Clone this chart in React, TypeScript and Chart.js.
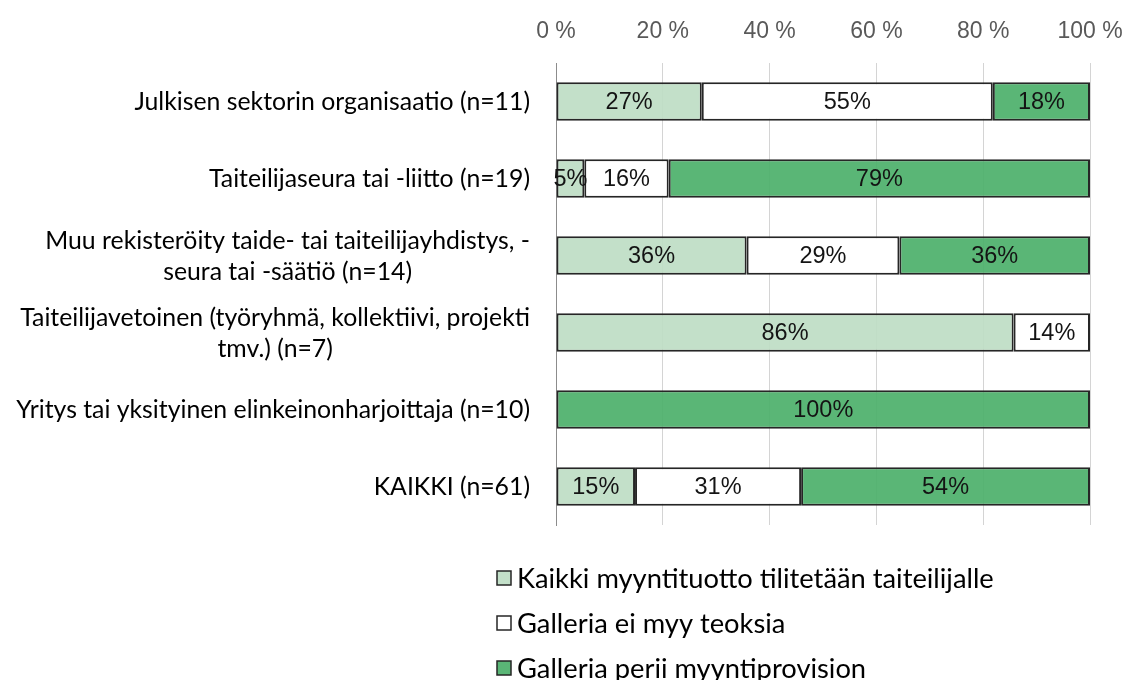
import React, { useEffect, useRef } from "react";
import { Chart, registerables } from "chart.js";

Chart.register(...registerables);

const categories: string[][] = [
  ["Julkisen sektorin organisaatio (n=11)"],
  ["Taiteilijaseura tai -liitto (n=19)"],
  ["Muu rekisteröity taide- tai taiteilijayhdistys, -", "seura tai -säätiö (n=14)"],
  ["Taiteilijavetoinen (työryhmä, kollektiivi, projekti", "tmv.) (n=7)"],
  ["Yritys tai yksityinen elinkeinonharjoittaja (n=10)"],
  ["KAIKKI (n=61)"],
];

const seriesNames = [
  "Kaikki myyntituotto tilitetään taiteilijalle",
  "Galleria ei myy teoksia",
  "Galleria perii myyntiprovision",
];

const allToArtist = [27.3, 5.3, 35.7, 85.7, 0, 14.8];
const noSales = [54.5, 15.8, 28.6, 14.3, 0, 31.1];
const commission = [18.2, 78.9, 35.7, 0, 100, 54.1];

const xMin = 0;
const xMax = 100;
const xStep = 20;

const colors = ["rgba(190,221,196,0.92)", "#ffffff", "rgba(76,176,106,0.92)"];

const labelFont = "Lato, 'Noto Sans', sans-serif";
const numFont = "'Liberation Sans', Arial, sans-serif";

const dataLabelPlugin = {
  id: "dataLabels",
  afterDatasetsDraw(chart: any) {
    const ctx = chart.ctx;
    ctx.save();
    ctx.font = `23.5px ${numFont}`;
    ctx.fillStyle = "#141414";
    ctx.textAlign = "center";
    ctx.textBaseline = "middle";
    chart.data.datasets.forEach((ds: any, i: number) => {
      const meta = chart.getDatasetMeta(i);
      meta.data.forEach((bar: any, j: number) => {
        const v = ds.data[j];
        if (!v) return;
        const p = bar.getProps(["x", "y", "base"], true);
        ctx.fillText(Math.round(v) + "%", (p.x + p.base) / 2, p.y + 1);
      });
    });
    ctx.restore();
  },
};

const categoryLabelPlugin = {
  id: "categoryLabels",
  afterDraw(chart: any) {
    const ctx = chart.ctx;
    const yScale = chart.scales.y;
    const right = chart.chartArea.left - 26;
    const lineH = 31;
    ctx.save();
    ctx.font = `24.8px ${labelFont}`;
    ctx.fillStyle = "#000000";
    ctx.textBaseline = "middle";
    ctx.textAlign = "center";
    categories.forEach((lines, i) => {
      const cy = yScale.getPixelForValue(i);
      const w = Math.max(...lines.map((l) => ctx.measureText(l).width));
      const cx = right - w / 2;
      const top = cy - ((lines.length - 1) * lineH) / 2;
      lines.forEach((l, k) => ctx.fillText(l, cx, top + k * lineH + 1));
    });
    ctx.restore();
  },
};

const legendPlugin = {
  id: "customLegend",
  afterDraw(chart: any) {
    const ctx = chart.ctx;
    const x0 = chart.chartArea.left - 59;
    const y0 = chart.chartArea.bottom + 53;
    const gap = 45;
    const box = 14;
    ctx.save();
    ctx.font = `27.3px ${labelFont}`;
    ctx.textBaseline = "middle";
    ctx.textAlign = "left";
    chart.data.datasets.forEach((ds: any, i: number) => {
      const y = y0 + i * gap;
      ctx.fillStyle = ds.backgroundColor;
      ctx.fillRect(x0, y - box / 2, box, box);
      ctx.strokeStyle = "#262626";
      ctx.lineWidth = 1.5;
      ctx.strokeRect(x0, y - box / 2, box, box);
      ctx.fillStyle = "#000000";
      ctx.fillText(ds.label, x0 + box + 6, y + 1);
    });
    ctx.restore();
  },
};

export default function App() {
  const ref = useRef<HTMLCanvasElement>(null);

  useEffect(() => {
    document.body.style.margin = "0";
    document.body.style.overflow = "hidden";
    const canvas = ref.current!;
    const datasets = [allToArtist, noSales, commission].map((d, i) => ({
      label: seriesNames[i],
      data: d,
      backgroundColor: colors[i],
      borderColor: "#262626",
      borderWidth: 2,
      borderSkipped: false as const,
      barPercentage: 0.5,
      categoryPercentage: 1,
    }));
    const chart = new Chart(canvas, {
      type: "bar",
      data: { labels: categories.map((c) => c.join(" ")), datasets },
      options: {
        indexAxis: "y",
        responsive: false,
        animation: false,
        layout: { padding: { left: 556, right: 39, top: 0, bottom: 155 } },
        plugins: { legend: { display: false }, tooltip: { enabled: false } },
        scales: {
          x: {
            position: "top",
            stacked: true,
            min: xMin,
            max: xMax,
            afterFit(scale: any) {
              scale.height = 63;
              scale.paddingLeft = 0;
              scale.paddingRight = 0;
            },
            ticks: {
              stepSize: xStep,
              padding: 18,
              color: "#595959",
              font: { family: numFont, size: 23 },
              callback: (v: any) => v + " %",
            },
            grid: { color: "#d4d4d4", drawTicks: false, lineWidth: 1 },
            border: { display: false },
          },
          y: {
            stacked: true,
            ticks: { display: false },
            grid: { display: false, drawTicks: false },
            border: { display: true, color: "#8c8c8c", width: 1 },
          },
        },
      },
      plugins: [dataLabelPlugin, categoryLabelPlugin, legendPlugin],
    });
    return () => chart.destroy();
  }, []);

  return <canvas ref={ref} width={1129} height={680} style={{ display: "block" }} />;
}
